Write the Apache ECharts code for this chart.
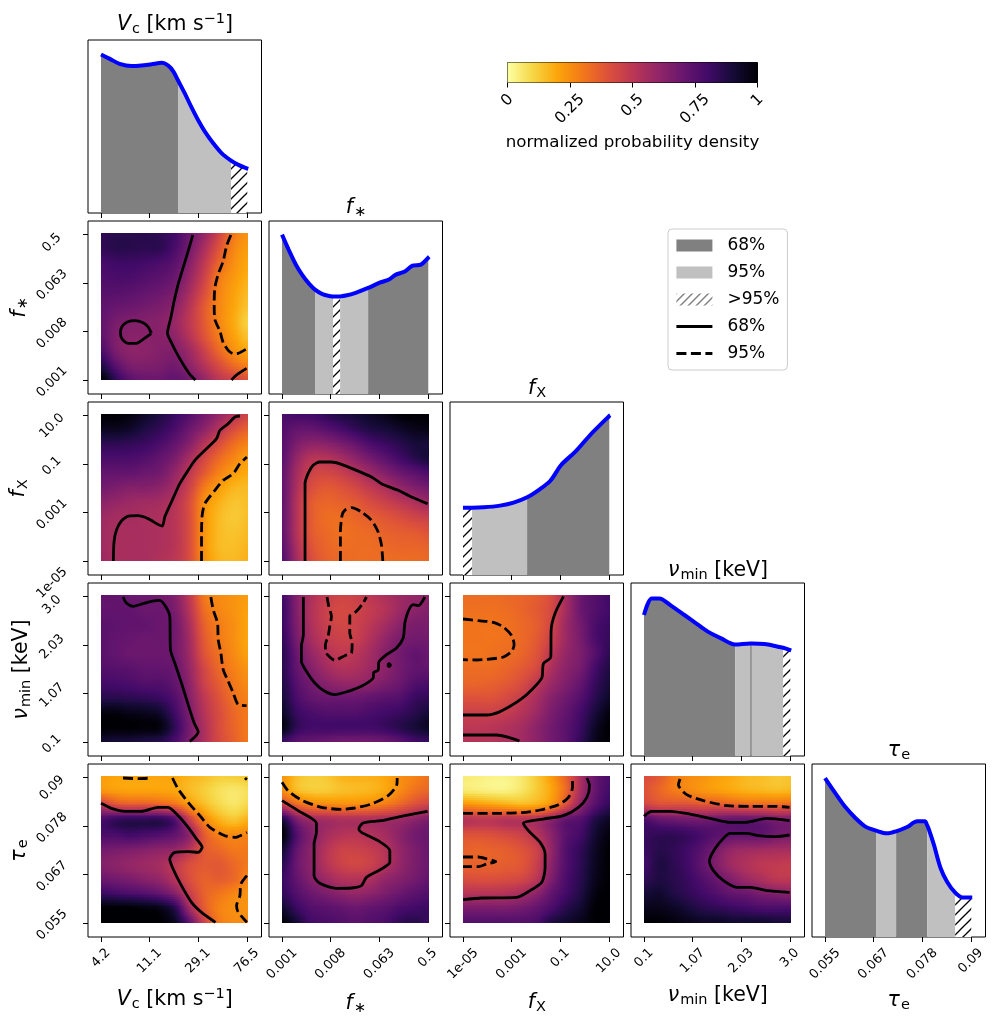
<!DOCTYPE html>
<html><head><meta charset="utf-8">
<script src="https://cdn.jsdelivr.net/npm/echarts@6/dist/echarts.min.js"></script>
<style>html,body{margin:0;padding:0;background:#fff}#c{width:998px;height:1024px}</style></head>
<body><div id="c"></div>
<script>
// ---------- tick labels ----------
const ticks_Vc = ['4.2','11.1','29.1','76.5'];
const ticks_fstar = ['0.001','0.008','0.063','0.5'];
const ticks_fX = ['1e-05','0.001','0.1','10.0'];
const ticks_nu = ['0.1','1.07','2.03','3.0'];
const ticks_tau = ['0.055','0.067','0.078','0.09'];
const tickPos = [0,0.99,1.98,2.97];
const cbar_ticks = [0,0.25,0.5,0.75,1];
const cbar_labels = ['0','0.25','0.5','0.75','1'];
const inferno_r = ['#fcffa4','#f6d746','#fca50a','#f37819','#dd513a','#bc3754','#932667','#6a176e','#420a68','#160b39','#000004'];

// ---------- 1D marginals (x in tick units, y as fraction of panel height) ----------
const curve_Vc = [[0,.916],[.18,.891],[.38,.862],[.62,.849],[.82,.852],[1.03,.860],[1.24,.868],[1.37,.852],[1.47,.820],[1.57,.766],[1.71,.690],[1.84,.613],[1.98,.536],[2.12,.469],[2.29,.402],[2.46,.345],[2.65,.303],[2.80,.278],[2.98,.257],[3.0,.255]];
const curve_fstar = [[0,.921],[.14,.831],[.278,.75],[.415,.687],[.55,.638],[.673,.603],[.823,.577],[.99,.565],[1.04,.564],[1.129,.563],[1.184,.564],[1.30,.569],[1.50,.585],[1.755,.613],[1.98,.642],[2.18,.662],[2.32,.69],[2.49,.706],[2.66,.742],[2.83,.748],[2.98,.788],[3.0,.793]];
const curve_fX = [[0,.389],[.184,.389],[.415,.391],[.755,.401],[1.03,.418],[1.306,.449],[1.54,.491],[1.78,.545],[2.0,.636],[2.29,.713],[2.59,.809],[2.98,.919],[3.0,.923]];
const curve_nu = [[0,.815],[.156,.911],[.313,.911],[.551,.869],[.823,.815],[1.061,.767],[1.30,.719],[1.571,.68],[1.857,.645],[2.163,.651],[2.197,.651],[2.456,.647],[2.728,.632],[2.837,.626],[2.98,.612],[3.0,.61]];
const curve_tau = [[0,.919],[.21,.832],[.415,.751],[.619,.688],[.823,.638],[1.04,.615],[1.265,.599],[1.449,.611],[1.673,.636],[1.878,.669],[2.034,.669],[2.082,.645],[2.116,.622],[2.218,.534],[2.354,.399],[2.49,.318],[2.653,.256],[2.796,.229],[2.98,.229],[3.0,.229]];
const bands_Vc = [[0,1.57,'68%'],[1.57,2.65,'95%'],[2.65,2.98,'>95%']];
const bands_fstar = [[0,.673,'68%'],[.673,1.04,'95%'],[1.04,1.184,'>95%'],[1.184,1.755,'95%'],[1.755,2.98,'68%']];
const bands_fX = [[0,.184,'>95%'],[.184,1.306,'95%'],[1.306,2.98,'68%']];
const bands_nu = [[0,1.857,'68%'],[1.857,2.163,'95%'],[2.163,2.197,'68%'],[2.197,2.837,'95%'],[2.837,2.98,'>95%']];
const bands_tau = [[0,1.04,'68%'],[1.04,1.449,'95%'],[1.449,2.082,'68%'],[2.082,2.653,'95%'],[2.653,2.98,'>95%']];

// ---------- 2D densities: rows top to bottom, columns left to right ----------
const hm_fstar_Vc = [
[.84,.86,.86,.86,.84,.80,.70,.60,.45,.30,.24],[.84,.86,.86,.85,.85,.78,.68,.55,.40,.27,.22],[.79,.81,.81,.80,.78,.74,.64,.50,.35,.25,.20],[.77,.78,.78,.76,.74,.70,.60,.46,.30,.23,.18],[.75,.75,.74,.72,.70,.66,.56,.42,.28,.21,.16],[.73,.71,.70,.68,.66,.62,.52,.38,.27,.20,.14],[.72,.67,.65,.64,.63,.59,.50,.38,.27,.19,.11],[.73,.65,.63,.63,.63,.61,.52,.40,.29,.21,.14],[.78,.66,.62,.62,.64,.64,.58,.46,.34,.25,.20],[.88,.74,.66,.65,.66,.68,.62,.52,.42,.33,.28],[1.0,.84,.74,.70,.70,.72,.68,.60,.50,.45,.40]];
const hm_fX_Vc = [
[1.0,1.0,.98,.93,.88,.82,.76,.68,.60,.52,.45],[.95,.95,.93,.88,.84,.78,.70,.62,.52,.42,.36],[.85,.85,.84,.82,.78,.72,.64,.52,.42,.33,.28],[.78,.78,.78,.76,.72,.66,.56,.44,.34,.27,.22],[.72,.72,.72,.70,.68,.60,.50,.38,.28,.22,.19],[.68,.66,.64,.64,.62,.56,.46,.30,.22,.17,.16],[.62,.60,.58,.57,.56,.52,.42,.25,.18,.14,.15],[.58,.56,.56,.55,.54,.51,.42,.24,.16,.13,.15],[.57,.55,.55,.55,.54,.51,.42,.24,.16,.14,.16],[.57,.55,.55,.55,.54,.51,.42,.24,.16,.15,.17],[.58,.55,.55,.55,.53,.50,.42,.25,.17,.16,.18]];
const hm_fX_fstar = [
[.78,.80,.80,.84,.88,.90,.93,.96,1.0,1.0,1.0],[.76,.72,.72,.75,.79,.84,.88,.90,.93,.96,.97],[.75,.66,.62,.63,.67,.72,.78,.82,.86,.90,.90],[.74,.60,.52,.52,.56,.62,.68,.74,.80,.86,.90],[.72,.56,.46,.44,.47,.52,.58,.64,.70,.74,.78],[.72,.54,.42,.38,.40,.44,.49,.54,.60,.65,.68],[.72,.52,.38,.35,.36,.38,.42,.46,.50,.54,.58],[.72,.52,.38,.33,.33,.35,.37,.39,.42,.45,.47],[.72,.52,.38,.34,.32,.33,.34,.36,.37,.38,.40],[.74,.54,.40,.35,.33,.33,.33,.34,.35,.35,.36],[.76,.56,.42,.36,.34,.33,.33,.33,.33,.33,.34]];
const hm_nu_Vc = [
[.72,.72,.70,.70,.68,.64,.50,.30,.26,.24,.22],[.72,.72,.72,.70,.70,.66,.52,.33,.27,.24,.21],[.74,.73,.72,.72,.70,.68,.55,.36,.29,.25,.20],[.74,.72,.71,.70,.70,.68,.57,.38,.30,.25,.20],[.74,.72,.70,.70,.70,.68,.58,.40,.32,.26,.21],[.76,.75,.74,.72,.72,.70,.60,.44,.34,.28,.24],[.80,.79,.78,.76,.76,.72,.62,.46,.37,.30,.26],[.86,.86,.85,.84,.82,.76,.64,.50,.40,.32,.28],[.98,.98,.96,.95,.92,.80,.66,.52,.42,.34,.30],[1.0,1.0,1.0,.99,.98,.84,.68,.54,.42,.35,.30],[.92,.90,.90,.88,.86,.78,.66,.54,.43,.36,.30]];
const hm_nu_fstar = [
[.80,.64,.54,.48,.45,.46,.50,.54,.58,.60,.62],[.82,.64,.53,.46,.43,.45,.48,.52,.58,.62,.64],[.82,.65,.54,.47,.44,.46,.50,.56,.62,.66,.66],[.84,.67,.56,.49,.46,.47,.53,.60,.66,.68,.68],[.86,.70,.60,.53,.49,.51,.56,.63,.68,.72,.70],[.86,.72,.64,.57,.53,.54,.58,.62,.68,.72,.72],[.88,.75,.68,.63,.60,.60,.62,.66,.70,.76,.78],[.90,.78,.72,.70,.70,.70,.72,.74,.76,.82,.84],[.94,.82,.78,.76,.76,.76,.78,.80,.82,.86,.90],[.98,.84,.80,.80,.80,.80,.80,.82,.86,.90,.94],[.82,.74,.72,.70,.68,.68,.68,.70,.74,.80,.82]];
const hm_nu_fX = [
[.33,.33,.33,.34,.35,.37,.42,.56,.70,.76,.80],[.32,.32,.32,.33,.35,.38,.43,.56,.70,.76,.80],[.31,.31,.31,.32,.34,.37,.44,.58,.68,.78,.82],[.31,.31,.31,.32,.34,.38,.46,.58,.67,.78,.83],[.31,.31,.32,.33,.35,.40,.50,.60,.66,.76,.85],[.33,.33,.33,.35,.38,.43,.54,.62,.68,.80,.88],[.35,.35,.36,.38,.42,.50,.58,.65,.72,.83,.90],[.40,.40,.40,.43,.48,.55,.63,.69,.76,.86,.93],[.46,.46,.46,.48,.52,.58,.66,.72,.80,.90,.98],[.50,.50,.51,.53,.56,.62,.68,.74,.82,.94,1.0],[.52,.52,.52,.54,.57,.62,.68,.74,.84,.96,1.0]];
const hm_tau_Vc = [
[.22,.20,.20,.20,.20,.20,.17,.15,.12,.12,.13],[.24,.22,.21,.21,.21,.20,.16,.12,.08,.06,.08],[.50,.42,.40,.40,.38,.34,.24,.16,.10,.07,.10],[.78,.83,.85,.85,.85,.76,.48,.28,.18,.14,.18],[.78,.78,.80,.78,.76,.72,.62,.38,.28,.26,.27],[.68,.67,.66,.64,.62,.60,.52,.38,.34,.30,.30],[.64,.62,.60,.58,.56,.50,.42,.38,.38,.34,.30],[.70,.68,.66,.63,.60,.52,.42,.36,.37,.34,.27],[.82,.80,.78,.76,.72,.64,.48,.36,.31,.27,.24],[1.0,1.0,1.0,.98,.96,.86,.58,.38,.28,.25,.24],[1.0,1.0,1.0,1.0,1.0,.94,.74,.46,.30,.26,.26]];
const hm_tau_fstar = [
[.24,.15,.12,.13,.17,.18,.18,.20,.25,.28,.32],[.26,.16,.13,.13,.15,.16,.17,.20,.26,.32,.35],[.48,.36,.30,.28,.27,.27,.28,.31,.36,.42,.46],[.90,.66,.58,.56,.54,.54,.54,.56,.58,.62,.66],[1.0,.76,.64,.56,.52,.51,.53,.56,.62,.68,.70],[.92,.72,.62,.52,.46,.46,.48,.52,.60,.66,.70],[.86,.70,.62,.52,.46,.44,.46,.52,.60,.66,.70],[.82,.72,.64,.58,.53,.52,.54,.60,.64,.68,.72],[.84,.76,.70,.66,.62,.60,.62,.66,.70,.74,.76],[.92,.82,.76,.74,.72,.70,.72,.74,.78,.80,.82],[1.0,.90,.80,.78,.76,.74,.76,.78,.84,.86,.82]];
const hm_tau_fX = [
[.05,.04,.03,.03,.06,.13,.22,.36,.55,.72,.78],[.06,.05,.04,.04,.07,.13,.20,.34,.56,.72,.80],[.26,.24,.22,.20,.18,.20,.26,.42,.62,.76,.84],[.52,.50,.50,.52,.52,.54,.62,.72,.76,.88,.94],[.40,.40,.41,.43,.46,.52,.62,.74,.80,.92,.98],[.36,.35,.36,.37,.40,.46,.60,.76,.84,.94,1.0],[.36,.36,.36,.37,.39,.47,.62,.76,.85,.95,1.0],[.42,.41,.41,.42,.44,.51,.65,.78,.86,.96,1.0],[.52,.52,.52,.53,.56,.62,.72,.80,.88,.98,1.0],[.66,.66,.66,.66,.68,.72,.78,.86,.92,1.0,1.0],[.76,.76,.76,.76,.76,.78,.88,.92,.96,1.0,1.0]];
const hm_tau_nu = [
[.42,.38,.30,.26,.24,.21,.19,.16,.15,.13,.14],[.40,.35,.30,.27,.24,.22,.20,.18,.17,.16,.17],[.46,.42,.42,.42,.40,.40,.38,.36,.36,.35,.36],[.78,.72,.70,.68,.68,.70,.72,.72,.70,.66,.66],[.82,.84,.84,.82,.78,.74,.72,.72,.72,.68,.66],[.82,.86,.84,.80,.74,.66,.60,.58,.57,.56,.56],[.80,.88,.85,.80,.72,.64,.57,.53,.50,.49,.48],[.84,.88,.86,.82,.76,.70,.64,.58,.54,.50,.50],[.90,.92,.88,.84,.80,.76,.72,.70,.66,.64,.62],[.96,.96,.94,.90,.86,.84,.82,.80,.78,.78,.78],[1.0,1.0,.98,.96,.94,.94,.92,.92,.92,.90,.90]];

// ---------- contours: lists of [x,y] paths in tick units ----------
const c68_fstar_Vc = [
[[1.87,2.959],[1.776,2.633],[1.673,2.293],[1.571,1.952],[1.49,1.612],[1.422,1.272],[1.354,.952],[1.435,.762],[1.537,.558],[1.673,.32],[1.81,.116],[1.925,0]],
[[1.027,.952],[.959,1.082],[.857,1.17],[.687,1.211],[.537,1.184],[.435,1.102],[.395,.966],[.435,.83],[.551,.748],[.721,.748],[.857,.83],[1.027,.952]],
[[2.66,0],[2.76,.102],[2.966,.238]]];
const c95_fstar_Vc = [[[2.646,2.959],[2.558,2.735],[2.49,2.429],[2.388,2.156],[2.32,1.884],[2.306,1.544],[2.32,1.238],[2.422,1.0],[2.49,.762],[2.592,.605],[2.694,.537],[2.796,.544],[2.973,.639]]];
const c68_fX_Vc = [[[.252,0],[.265,.388],[.313,.626],[.415,.816],[.565,.918],[.755,.925],[.959,.864],[1.245,.714],[1.299,.898],[1.435,1.204],[1.605,1.578],[1.776,1.85],[1.912,2.054],[2.116,2.259],[2.354,2.497],[2.422,2.667],[2.592,2.803],[2.728,2.939],[2.83,2.959]]];
const c95_fX_Vc = [[[2.048,0],[2.048,.524],[2.061,.932],[2.116,1.17],[2.32,1.442],[2.49,1.646],[2.694,1.782],[2.83,1.986],[2.973,2.122]]];
const c68_fX_fstar = [[[.469,0],[.469,1.578],[.531,1.782],[.633,1.952],[.769,2.02],[1.007,2.02],[1.211,1.973],[1.483,1.864],[1.823,1.714],[2.027,1.578],[2.367,1.442],[2.639,1.306],[2.966,1.17]]];
const c95_fX_fstar = [[[1.19,0],[1.19,.592],[1.224,.932],[1.279,1.034],[1.415,1.088],[1.619,1.0],[1.823,.83],[1.959,.592],[2.027,.32],[2.054,0]]];
const c68_nu_Vc = [[[.449,2.959],[.517,2.837],[.653,2.769],[.857,2.823],[1.027,2.871],[1.197,2.891],[1.313,2.769],[1.401,2.565],[1.415,1.884],[1.503,1.612],[1.639,1.204],[1.776,.762],[1.898,.388],[1.98,.204],[1.81,.014]]];
const c95_nu_Vc = [[[2.238,2.959],[2.286,2.701],[2.374,2.429],[2.388,2.088],[2.442,1.816],[2.49,1.476],[2.592,1.238],[2.694,1.0],[2.796,.762],[2.966,.741]]];
const c68_nu_fstar = [
[[.435,2.959],[.435,2.19],[.395,1.952],[.395,1.646],[.497,1.442],[.667,1.204],[.871,1.034],[1.075,.966],[1.347,1.034],[1.619,1.136],[1.857,1.306],[1.871,1.422],[1.959,1.463],[1.973,1.633],[2.129,1.782],[2.333,1.918],[2.469,2.122],[2.503,2.429],[2.571,2.667],[2.673,2.803],[2.776,2.782],[2.912,2.959]],
[[2.15,1.57],[2.18,1.6],[2.21,1.57],[2.18,1.54],[2.15,1.57]]];
const c95_nu_fstar = [[[.918,2.959],[.952,2.769],[1.007,2.565],[.973,2.361],[.939,2.156],[.884,1.986],[.884,1.85],[.973,1.735],[1.075,1.667],[1.279,1.762],[1.415,1.816],[1.429,2.02],[1.381,2.224],[1.381,2.565],[1.517,2.667],[1.653,2.837],[1.721,2.959]]];
const c68_nu_fX = [
[[2.048,2.973],[1.878,2.633],[1.796,2.293],[1.789,1.735],[1.639,1.599],[1.605,1.306],[1.401,1.068],[1.197,.884],[.959,.728],[.721,.605],[.483,.551],[0,.551]],
[[0,.143],[.687,.143],[.925,.095],[1.15,.02]]];
const c95_nu_fX = [[[0,2.51],[.313,2.476],[.619,2.442],[.823,2.347],[.993,2.17],[1.041,1.986],[.993,1.85],[.823,1.735],[.551,1.694],[.279,1.673],[0,1.68]]];
const c68_tau_Vc = [[[0,2.442],[.211,2.34],[.483,2.279],[.823,2.279],[1.163,2.361],[1.367,2.361],[1.571,2.19],[1.776,1.952],[1.946,1.714],[2.061,1.544],[1.98,1.442],[1.776,1.456],[1.503,1.442],[1.401,1.306],[1.469,1.102],[1.639,.762],[1.844,.422],[2.048,.218],[2.333,.014]]];
const c95_tau_Vc = [
[[.449,2.959],[.755,2.946],[1.041,2.959]],
[[1.456,2.959],[1.571,2.735],[1.776,2.463],[2.014,2.19],[2.218,1.952],[2.524,1.782],[2.728,1.748],[2.973,1.85]],
[[2.973,.966],[2.85,.796],[2.83,.558],[2.762,.354],[2.796,.218],[2.973,.014]],
[[2.932,2.959],[2.973,2.925]]];
const c68_tau_fstar = [[[0,2.497],[.327,2.293],[.701,2.034],[.701,1.85],[.653,1.612],[.653,.966],[.769,.81],[1.109,.707],[1.415,.714],[1.619,.762],[1.721,.932],[2.027,1.102],[2.197,1.238],[2.197,1.476],[1.959,1.68],[1.619,1.85],[1.565,1.918],[1.653,2.041],[2.027,2.088],[2.503,2.19],[2.966,2.279]]];
const c95_tau_fstar = [[[0,2.871],[.122,2.701],[.395,2.51],[.803,2.361],[1.211,2.32],[1.483,2.347],[1.823,2.429],[2.163,2.599],[2.333,2.803],[2.347,2.959]]];
const c68_tau_fX = [[[0,.476],[.381,.51],[1.095,.524],[1.367,.66],[1.605,.83],[1.673,1.136],[1.673,1.408],[1.571,1.646],[1.333,1.884],[1.231,2.034],[1.639,2.122],[2.048,2.19],[2.354,2.361],[2.524,2.565],[2.578,2.803],[2.524,2.959]]];
const c95_tau_fX = [
[[0,2.238],[.619,2.238],[1.197,2.252],[1.571,2.306],[1.946,2.415],[2.15,2.565],[2.231,2.769],[2.231,2.959]],
[[0,1.347],[.313,1.347],[.483,1.306],[.667,1.252],[.483,1.204],[.313,1.15],[0,1.15]]];
const c68_tau_nu = [
[[0,2.177],[.156,2.279],[.531,2.279],[.939,2.224],[1.347,2.136],[1.755,2.054],[2.061,2.054],[2.503,2.136],[2.966,2.088]],
[[2.966,1.796],[2.673,1.762],[2.333,1.782],[2.095,1.83],[1.755,1.83],[1.517,1.612],[1.381,1.408],[1.333,1.272],[1.415,1.068],[1.619,.864],[1.891,.728],[2.163,.728],[2.503,.66],[2.966,.626]]];
const c95_tau_nu = [[[.735,2.939],[.701,2.823],[.871,2.619],[1.211,2.497],[1.687,2.395],[2.163,2.381],[2.639,2.381],[2.966,2.361]]];

// ---------- texts ----------
const name_Vc = '{i|V}{sub|c}{n| [km s}{sup|−1}{n|]}';
const name_fstar = '{i|f}{sub|∗}';
const name_fX = '{i|f}{sub|X}';
const name_nu = '{i|ν}{sub|min}{n| [keV]}';
const name_tau = '{i|τ}{sub|e}';
const FONT = 'DejaVu Sans';
const nameRich = {
  i:{fontFamily:FONT,fontStyle:'italic',fontWeight:'normal',fontSize:20.5,color:'#000'},
  n:{fontFamily:FONT,fontWeight:'normal',fontSize:20.5,color:'#000'},
  sub:{fontFamily:FONT,fontWeight:'normal',fontSize:14.5,color:'#000',padding:[9,0,0,1]},
  sup:{fontFamily:FONT,fontWeight:'normal',fontSize:14.5,color:'#000',padding:[0,0,11,0]}
};
const params = [
 {name:name_Vc,ticks:ticks_Vc,curve:curve_Vc,bands:bands_Vc,xGap:50,yGap:52,titleUp:33},
 {name:name_fstar,ticks:ticks_fstar,curve:curve_fstar,bands:bands_fstar,xGap:55,yGap:43,titleUp:30},
 {name:name_fX,ticks:ticks_fX,curve:curve_fX,bands:bands_fX,xGap:54,yGap:43,titleUp:30},
 {name:name_nu,ticks:ticks_nu,curve:curve_nu,bands:bands_nu,xGap:47,yGap:48,titleUp:29},
 {name:name_tau,ticks:ticks_tau,curve:curve_tau,bands:bands_tau,xGap:52,yGap:43,titleUp:30}];
const panels2D = {
 '1,0':[hm_fstar_Vc,c68_fstar_Vc,c95_fstar_Vc],
 '2,0':[hm_fX_Vc,c68_fX_Vc,c95_fX_Vc],
 '2,1':[hm_fX_fstar,c68_fX_fstar,c95_fX_fstar],
 '3,0':[hm_nu_Vc,c68_nu_Vc,c95_nu_Vc],
 '3,1':[hm_nu_fstar,c68_nu_fstar,c95_nu_fstar],
 '3,2':[hm_nu_fX,c68_nu_fX,c95_nu_fX],
 '4,0':[hm_tau_Vc,c68_tau_Vc,c95_tau_Vc],
 '4,1':[hm_tau_fstar,c68_tau_fstar,c95_tau_fstar],
 '4,2':[hm_tau_fX,c68_tau_fX,c95_tau_fX],
 '4,3':[hm_tau_nu,c68_tau_nu,c95_tau_nu]};

// ---------- helpers ----------
const colorOf = v => echarts.color.lerp(Math.max(0,Math.min(1,v)), inferno_r);
function hatch(size,lw){
  const k=document.createElement('canvas');k.width=k.height=size;
  const g=k.getContext('2d');g.fillStyle='#fff';g.fillRect(0,0,size,size);
  g.strokeStyle='#000';g.lineWidth=lw;
  [[-size,size,size,-size],[0,size,size,0],[0,2*size,2*size,0]].forEach(a=>{g.beginPath();g.moveTo(a[0],a[1]);g.lineTo(a[2],a[3]);g.stroke();});
  return k;
}
const hatchPanel={image:hatch(10,1.3),repeat:'repeat'};
const hatchLegend={image:hatch(8,1),repeat:'repeat'};
const bandFill={'68%':'#808080','95%':'#c0c0c0','>95%':hatchPanel};

const meas=document.createElement('canvas').getContext('2d');
function tickRich(labels,size,vertical,extra){
  const rich={};
  labels.forEach((t,i)=>{
    meas.font=size+'px "DejaVu Sans"';
    const h=(meas.measureText(t).width+size*0.8)*0.7071/2;
    const s=vertical?(extra?extra(t,i,h):0):h;
    const p=1.414*s;
    rich['t'+i]={fontFamily:FONT,fontSize:size,color:'#000',padding:[p,p,0,0]};
  });
  return rich;
}
const yShift=(t,i,h)=> i===3 ? h*0.75 : (t==='1e-05' ? 22 : 2);

const grids=[],xAxes=[],yAxes=[],series=[],titles=[];
const COL=i=>88+181*i, ROW=j=>40+181*j;
const xNodes=[0,.3,.6,.9,1.2,1.5,1.8,2.1,2.4,2.7,3.0];
const yNodes=[3.0,2.7,2.4,2.1,1.8,1.5,1.2,.9,.6,.3,0];
const SUB=8;
// cubic shading between the read nodes, as a smooth image rendering of the cells
const cr=(a,b,c,d,t)=>b+.5*t*(c-a+t*(2*a-5*b+4*c-d+t*(3*(b-c)+d-a)));
const cl=(k,n)=>Math.max(0,Math.min(n-1,k));

function addAxes(r,c,diag){
  const idx=grids.length;
  grids.push({left:COL(c),top:ROW(r),width:173.5,height:173,show:true,borderColor:'#000',borderWidth:1,backgroundColor:'#fff',containLabel:false,outerBoundsMode:'none'});
  const px=params[c],py=params[r],bottom=r===4,left=c===0;
  const xa={type:'value',gridIndex:idx,min:-.265,max:3.27,splitLine:{show:false},axisLine:{show:false,onZero:false},
    axisTick:{show:true,customValues:tickPos,length:5,lineStyle:{color:'#000',width:1}},
    axisLabel:{show:bottom,customValues:tickPos,rotate:45,align:'center',verticalAlign:'middle',margin:10,hideOverlap:false,
      formatter:v=>`{t${tickPos.indexOf(v)}|${px.ticks[tickPos.indexOf(v)]}}`,rich:tickRich(px.ticks,13,false)}};
  if(bottom) Object.assign(xa,{name:px.name,nameLocation:'middle',nameGap:px.xGap,nameTextStyle:{rich:nameRich}});
  xAxes.push(xa);
  if(diag){
    yAxes.push({type:'value',gridIndex:idx,min:0,max:1,show:false,splitLine:{show:false},axisLine:{onZero:false}});
  }else{
    const ya={type:'value',gridIndex:idx,min:-.286,max:3.245,splitLine:{show:false},axisLine:{show:false,onZero:false},
      axisTick:{show:true,customValues:tickPos,length:5,lineStyle:{color:'#000',width:1}},
      axisLabel:{show:left,customValues:tickPos,rotate:45,align:'center',verticalAlign:'middle',margin:36,hideOverlap:false,
        formatter:v=>`{t${tickPos.indexOf(v)}|${py.ticks[tickPos.indexOf(v)]}}`,rich:tickRich(py.ticks,13,true,yShift)}};
    if(left) Object.assign(ya,{name:py.name,nameLocation:'middle',nameGap:py.yGap,nameTextStyle:{rich:nameRich}});
    yAxes.push(ya);
  }
  return idx;
}

for(let r=0;r<5;r++){
  for(let c=0;c<=r;c++){
    if(r===c){
      const idx=addAxes(r,c,true), p=params[c];
      titles.push({text:p.name,left:COL(c)+82,top:ROW(r)-p.titleUp,textAlign:'center',textStyle:{fontWeight:'normal',rich:nameRich}});
      p.bands.forEach(b=>{
        const pts=p.curve.filter(q=>q[0]>=b[0]&&q[0]<=b[1]);
        series.push({type:'custom',name:b[2],xAxisIndex:idx,yAxisIndex:idx,silent:true,data:pts,z:2,
          itemStyle:{color:b[2]==='>95%'?'#ffffff':bandFill[b[2]]},
          renderItem:(prm,api)=>{
            if(prm.dataIndex!==0) return null;
            const poly=[[b[0],0]].concat(pts,[[b[1],0]]).map(q=>api.coord(q));
            return {type:'polygon',shape:{points:poly},style:{fill:bandFill[b[2]],stroke:null}};
          }});
      });
      series.push({type:'line',name:'curve',xAxisIndex:idx,yAxisIndex:idx,data:p.curve,symbol:'none',z:5,silent:true,smooth:.3,
        lineStyle:{color:'#0000ff',width:4,join:'round'},clip:false});
    }else{
      const idx=addAxes(r,c,false), d=panels2D[r+','+c], hm=d[0];
      const nr=hm.length,nc=hm[0].length;
      const cells=[];
      for(let j=0;j<yNodes.length-1;j++)for(let i=0;i<xNodes.length-1;i++)cells.push([xNodes[i],yNodes[j],i,j]);
      series.push({type:'custom',name:'density',xAxisIndex:idx,yAxisIndex:idx,silent:true,z:2,data:cells,progressive:0,
        renderItem:(prm,api)=>{
          const i=api.value(2),j=api.value(3);
          const a=api.coord([xNodes[i],yNodes[j]]),b=api.coord([xNodes[i+1],yNodes[j+1]]);
          const kids=[];
          const x0=Math.round(a[0]),x1=Math.round(b[0]);
          for(let k=0;k<SUB;k++){
            const ya=Math.round(a[1]+(b[1]-a[1])*k/SUB),yb=Math.round(a[1]+(b[1]-a[1])*(k+1)/SUB);
            if(yb<=ya) continue;
            const t=(k+.5)/SUB;
            const rv=[i-1,i,i+1,i+2].map(ii=>{const q=cl(ii,nc);
              return cr(hm[cl(j-1,nr)][q],hm[j][q],hm[j+1][q],hm[cl(j+2,nr)][q],t);});
            const stops=[0,.25,.5,.75,1].map(s=>({offset:s,color:colorOf(cr(rv[0],rv[1],rv[2],rv[3],s))}));
            kids.push({type:'rect',shape:{x:x0,y:ya,width:x1-x0,height:yb-ya},
              style:{fill:{type:'linear',x:0,y:0,x2:1,y2:0,colorStops:stops}}});
          }
          return {type:'group',children:kids};
        }});
      d[1].forEach(path=>series.push({type:'line',name:'68% ',xAxisIndex:idx,yAxisIndex:idx,data:path,symbol:'none',z:6,silent:true,smooth:.25,
        lineStyle:{color:'#000',width:2.8}}));
      d[2].forEach(path=>series.push({type:'line',name:'95% ',xAxisIndex:idx,yAxisIndex:idx,data:path,symbol:'none',z:6,silent:true,smooth:.25,
        lineStyle:{color:'#000',width:2.8,type:[10,4.5]}}));
    }
  }
}

// colour bar
const cbIdx=grids.length;
grids.push({left:507.5,top:62.5,width:250,height:20,show:true,borderColor:'#000',borderWidth:1,containLabel:false,outerBoundsMode:'none'});
xAxes.push({type:'value',gridIndex:cbIdx,min:0,max:1,interval:.25,splitLine:{show:false},axisLine:{show:false,onZero:false},
  axisTick:{show:true,length:5,lineStyle:{color:'#000'}},
  axisLabel:{rotate:45,align:'center',verticalAlign:'middle',margin:10,hideOverlap:false,showMinLabel:true,showMaxLabel:true,
    formatter:v=>`{t${cbar_ticks.indexOf(v)}|${cbar_labels[cbar_ticks.indexOf(v)]}}`,rich:tickRich(cbar_labels,15.5,false)},
  name:'normalized probability density',nameLocation:'middle',nameGap:52,nameTextStyle:{fontFamily:FONT,fontSize:16.7,color:'#000'}});
yAxes.push({type:'category',gridIndex:cbIdx,data:['density'],show:false});
series.push({type:'bar',name:'colorbar',xAxisIndex:cbIdx,yAxisIndex:cbIdx,data:[1],barWidth:'100%',silent:true,
  itemStyle:{color:{type:'linear',x:0,y:0,x2:1,y2:0,colorStops:inferno_r.map((col,i)=>({offset:i/(inferno_r.length-1),color:col}))}}});

const chart=echarts.init(document.getElementById('c'),null,{renderer:'canvas',width:998,height:1024});
chart.setOption({
  animation:false,backgroundColor:'#fff',textStyle:{fontFamily:FONT},
  tooltip:{show:false},title:titles,grid:grids,xAxis:xAxes,yAxis:yAxes,series,
  legend:{orient:'vertical',left:668,top:229,padding:[8,8,8,7],itemWidth:36,itemHeight:12,itemGap:10,selectedMode:false,
    backgroundColor:'#fff',borderColor:'#ccc',borderWidth:1,borderRadius:4,
    textStyle:{fontFamily:FONT,fontSize:17,color:'#000',padding:[0,0,0,10]},
    formatter:n=>n.trim(),
    data:[{name:'68%',icon:'rect',itemStyle:{color:'#808080'}},{name:'95%',icon:'rect',itemStyle:{color:'#c0c0c0'}},{name:'>95%',icon:'rect',itemStyle:{color:hatchLegend}},
      {name:'68% ',icon:'inherit',itemStyle:{color:'rgba(0,0,0,0)',borderWidth:0,opacity:0},lineStyle:{color:'#000',width:2.8,opacity:1}},
      {name:'95% ',icon:'inherit',itemStyle:{color:'rgba(0,0,0,0)',borderWidth:0,opacity:0},lineStyle:{color:'#000',width:2.8,type:[10,4.5],opacity:1}}]}
});
</script></body></html>
